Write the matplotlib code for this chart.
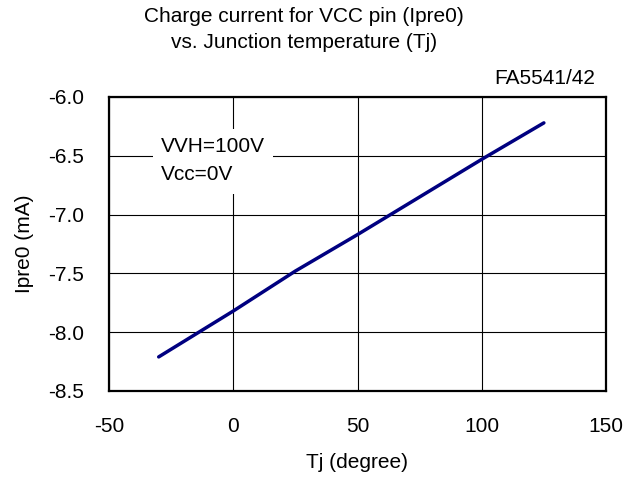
import matplotlib
matplotlib.use("Agg")
import matplotlib.pyplot as plt
from matplotlib.patches import Rectangle

plt.rcParams['font.family'] = ['Liberation Sans', 'DejaVu Sans']

tj = [-30, 0, 25, 50, 75, 100, 125]
ipre0 = [-8.21, -7.82, -7.48, -7.17, -6.85, -6.53, -6.22]
xticks = [-50, 0, 50, 100, 150]
yticks = [-8.5, -8.0, -7.5, -7.0, -6.5, -6.0]

FS = 15
fig = plt.figure(figsize=(6.41, 4.79), dpi=100)
W, H = 641, 479
ax = fig.add_axes([109 / W, 1 - 391 / H, (606 - 109) / W, (391 - 97) / H])
ax.set_xlim(-50, 150)
ax.set_ylim(-8.5, -6.0)
ax.set_xticks(xticks)
ax.set_yticks(yticks)
ax.set_xticklabels([f"{v:d}" for v in xticks])
ax.set_yticklabels([f"{v:.1f}" for v in yticks])
ax.grid(True, color='black', linewidth=0.8)
ax.set_axisbelow(True)
for s in ax.spines.values():
    s.set_linewidth(1.6)
ax.tick_params(length=0, labelsize=FS)
ax.tick_params(axis='y', pad=18)
ax.tick_params(axis='x', pad=19)

ax.plot(tj, ipre0, color='#000080', linewidth=2.5, solid_capstyle='round', zorder=4)

ax.add_patch(Rectangle((0.0885, 0.670), 0.2415, 0.221, transform=ax.transAxes,
                       facecolor='white', edgecolor='none', zorder=2))
ax.text(0.1046, 0.830, "VVH=100V", transform=ax.transAxes, fontsize=FS,
        ha='left', va='center', zorder=3)
ax.text(0.1046, 0.735, "Vcc=0V", transform=ax.transAxes, fontsize=FS,
        ha='left', va='center', zorder=3)

fig.text(357 / W, 1 - 462 / H, "Tj (degree)", fontsize=FS, ha='center', va='center')
fig.text(24 / W, 1 - 244 / H, "Ipre0 (mA)", fontsize=FS, ha='center', va='center',
         rotation=90)

fig.text(304 / W, 1 - 17 / H, "Charge current for VCC pin (Ipre0)", fontsize=FS,
         ha='center', va='center')
fig.text(304 / W, 1 - 43 / H, "vs. Junction temperature (Tj)", fontsize=FS,
         ha='center', va='center')
fig.text(595 / W, 1 - 78 / H, "FA5541/42", fontsize=FS, ha='right', va='center')

fig.savefig("out.png", dpi=100)
